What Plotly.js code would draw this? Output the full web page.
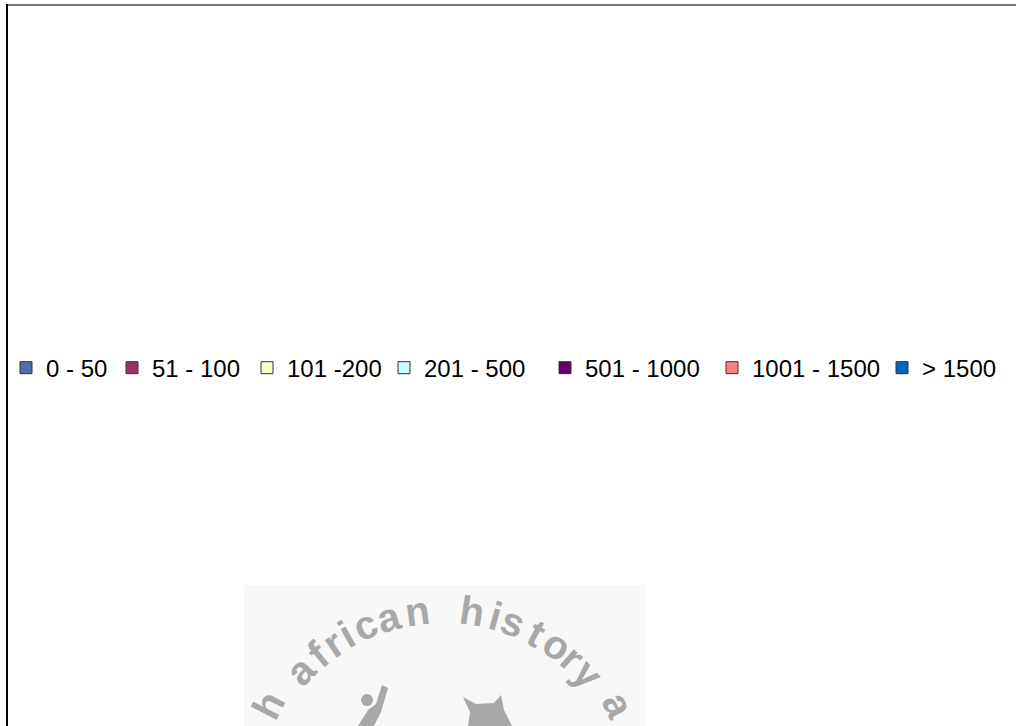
<!DOCTYPE html>
<html>
<head>
<meta charset="utf-8">
<script src="https://cdn.plot.ly/plotly-3.0.1.min.js"></script>
<style>html,body{margin:0;padding:0;background:#fff;}#chart{width:1016px;height:726px;}</style>
</head>
<body>
<div id="chart"></div>
<script>
// Legend categories (population ranges) and their colours; the chart shows no visible bars
const categories = ["Population"];
const seriesNames = ["0 - 50", "51 - 100", "101 -200", "201 - 500", "501 - 1000", "1001 - 1500", "> 1500"];
const seriesColors = ["#4f6fa5", "#993366", "#ffffcc", "#ccffff", "#660066", "#ff8080", "#0066cc"];
const seriesValues = [[null], [null], [null], [null], [null], [null], [null]];

// Watermark letters and their angle (degrees from vertical) on the logo arc
const wmLetters = ["h","a","f","r","i","c","a","n","h","i","s","t","o","r","y","a"];
const wmAngles  = [-63,-46.5,-39.5,-34,-29.5,-23.5,-16,-7.5,8.5,15.5,21,28.5,35.5,41.5,48,63.5];

const W = 1016, H = 726;
const px = x => x / W, py = y => 1 - y / H;
// left edge (px) of each legend entry's text
const legendTextX = [46, 152, 287, 424, 585, 752, 922];

const traces = seriesNames.map((n, i) => ({
  type: "bar",
  name: n,
  x: categories,
  y: seriesValues[i],
  marker: {color: seriesColors[i], line: {color: "#333333", width: 1}},
  showlegend: true,
  legend: i === 0 ? "legend" : "legend" + (i + 1)
}));

const cx = 443, cy = 805, r = 196;
const annotations = wmLetters.map((ch, i) => {
  const t = wmAngles[i] * Math.PI / 180;
  const x = cx + r * Math.sin(t), y = Math.min(cy - r * Math.cos(t), 705);
  return {
    x: px(x), y: py(y),
    xref: "paper", yref: "paper", text: ch, showarrow: false,
    textangle: wmAngles[i],
    font: {family: "Liberation Sans, Arial", size: 40, color: "#a8a8a8", weight: "bold"},
    xanchor: "center", yanchor: "middle"
  };
});

function path(pts) {
  return "M" + pts.map(p => px(p[0]).toFixed(5) + "," + py(p[1]).toFixed(5)).join("L") + "Z";
}

const layout = {
  width: W, height: H,
  margin: {l: 0, r: 0, t: 0, b: 0},
  paper_bgcolor: "#ffffff", plot_bgcolor: "#ffffff",
  xaxis: {visible: false, fixedrange: true},
  yaxis: {visible: false, fixedrange: true, range: [0, 1]},
  showlegend: true,
  shapes: [
    {type: "rect", xref: "paper", yref: "paper", x0: px(244), x1: px(645), y0: 0, y1: py(585),
     fillcolor: "#f8f8f8", line: {width: 0}, layer: "below"},
    {type: "line", xref: "paper", yref: "paper", x0: px(6), x1: 1, y0: py(5), y1: py(5),
     line: {color: "#777777", width: 2}},
    {type: "line", xref: "paper", yref: "paper", x0: px(7), x1: px(7), y0: py(4), y1: 0,
     line: {color: "#000000", width: 2}},
    // watermark figures
    {type: "circle", xref: "paper", yref: "paper", x0: px(361), x1: px(373), y0: py(706), y1: py(694),
     fillcolor: "#a8a8a8", line: {width: 0}},
    {type: "path", xref: "paper", yref: "paper", fillcolor: "#a8a8a8", line: {width: 0},
     path: path([[382,685],[388,688],[381,712],[374,726],[358,726],[368,710],[376,704]])},
    {type: "path", xref: "paper", yref: "paper", fillcolor: "#a8a8a8", line: {width: 0},
     path: path([[463,697],[476,704],[494,703],[501,695],[504,710],[512,726],[468,726],[470,712]])}
  ],
  annotations: annotations
};

legendTextX.forEach((tx, i) => {
  const key = i === 0 ? "legend" : "legend" + (i + 1);
  layout[key] = {
    orientation: "h", x: px(tx - 40), xanchor: "left", y: 0.493, yanchor: "middle",
    font: {family: "Liberation Sans, Arial", size: 24, color: "#000000"},
    bgcolor: "rgba(0,0,0,0)", itemclick: false, itemdoubleclick: false
  };
});

Plotly.newPlot("chart", traces, layout, {displayModeBar: false, staticPlot: true});
</script>
</body>
</html>
